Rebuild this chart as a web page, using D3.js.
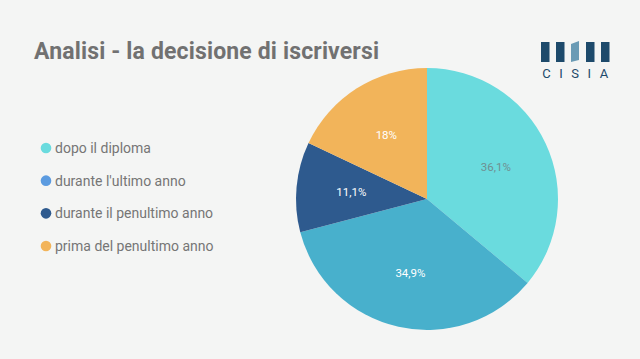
<!DOCTYPE html>
<html><head><meta charset="utf-8">
<script src="https://cdn.jsdelivr.net/npm/d3@7"></script>
<style>html,body{margin:0;padding:0;background:#f4f5f4;overflow:hidden}</style>
</head><body>
<svg id="c" width="640" height="359"></svg>
<script>
const title = "Analisi - la decisione di iscriversi";
const categories = ["dopo il diploma", "durante l'ultimo anno", "durante il penultimo anno", "prima del penultimo anno"];
const values = [36.1, 34.9, 11.1, 18];
const labels = ["36,1%", "34,9%", "11,1%", "18%"];
const sliceColors = ["#6adbde", "#48b0cc", "#2e5a8e", "#f2b45a"];
const legendColors = ["#6adbde", "#5b9be0", "#2e5a8e", "#f2b45a"];
const labelColors = ["#6f8f91", "#ffffff", "#ffffff", "#ffffff"];

const svg = d3.select("#c");
svg.append("rect").attr("width",640).attr("height",359).attr("fill","#f4f5f4");

svg.append("text").attr("x",34).attr("y",59).text(title)
  .attr("font-family","Roboto").attr("font-weight","bold").attr("font-size",23).attr("letter-spacing",0.15).attr("fill","#717171");

// logo
const logo = svg.append("g");
const barX = d3.scaleLinear().domain([0,4]).range([541,601]);
d3.range(5).forEach(i=>{
  if(i===2){
    const x=barX(i);
    logo.append("path").attr("d",`M${x},44 L${x+8},41 L${x+8},60 L${x},62 Z`).attr("fill","#6a9bb5");
  } else {
    logo.append("rect").attr("x",barX(i)).attr("y",42).attr("width",8.5).attr("height",20).attr("fill","#1d4a6b");
  }
});
logo.append("text").attr("x",575).attr("y",78).attr("text-anchor","middle").text("CISIA")
  .attr("font-family","Roboto").attr("font-size",13).attr("letter-spacing",8.5).attr("fill","#1d4a6b").attr("dx",4.5);

// legend
const ly = d3.scalePoint().domain(categories).range([148,246]);
const leg = svg.append("g");
categories.forEach((c,i)=>{
  leg.append("circle").attr("cx",46).attr("cy",ly(c)).attr("r",5.3).attr("fill",legendColors[i]);
  leg.append("text").attr("x",55).attr("y",ly(c)+5).text(c)
    .attr("font-family","Roboto").attr("font-size",14).attr("fill","#767676");
});

// pie
const cx=427, cy=199, R=131;
const pie = d3.pie().sort(null).value(d=>d)(values);
const arc = d3.arc().innerRadius(0).outerRadius(R);
const lab = d3.arc().innerRadius(R*0.56).outerRadius(R*0.6);
const g = svg.append("g").attr("transform",`translate(${cx},${cy})`);
g.selectAll("path").data(pie).join("path").attr("d",arc).attr("fill",(d,i)=>sliceColors[i]);
g.selectAll("text").data(pie).join("text")
  .attr("transform",d=>`translate(${lab.centroid(d)})`)
  .attr("text-anchor","middle").attr("dy","0.35em")
  .attr("font-family","Roboto").attr("font-size",11.5)
  .attr("fill",(d,i)=>labelColors[i]).text((d,i)=>labels[i]);
</script>
</body></html>
